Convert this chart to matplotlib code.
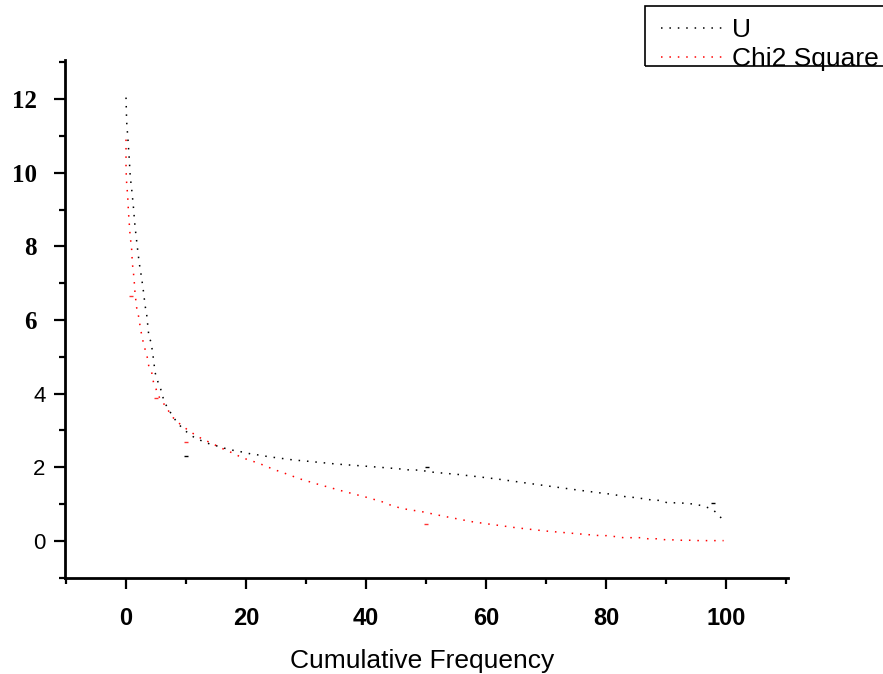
import matplotlib
matplotlib.use("Agg")
import matplotlib.pyplot as plt
from matplotlib.ticker import MultipleLocator, FixedLocator
from matplotlib.patches import Rectangle
from matplotlib.transforms import ScaledTranslation

# ---------------- data ----------------
u_x = [0, 0.1, 0.3, 0.55, 0.7, 0.95, 1.2, 1.5, 1.9, 2.2, 2.6, 2.9, 3.2, 3.45, 3.8,
       4.2, 4.55, 4.85, 5.3, 5.7, 6.05, 6.35, 7.8, 8.7, 9.8, 11.2, 12.6, 14, 15.4,
       16.8, 18.2, 19.6, 20.9, 22.3, 23.7, 25.1, 26.5, 27.9, 30, 35, 40, 43.2, 44.7,
       46.1, 47.6, 49, 50.4, 51.7, 53, 54.4, 55.8, 57.2, 58.4, 62, 66, 70, 75, 79.3,
       80.9, 82.3, 83.7, 85.1, 86.4, 87.8, 89.2, 90.3, 92, 93.4, 94.8, 96.2, 97.6,
       98.7, 99.7]
u_y = [12.04, 11.4, 10.95, 10.35, 9.9, 9.54, 9.13, 8.54, 7.96, 7.55, 7.14, 6.78, 6.37,
       6.14, 5.57, 5.38, 4.97, 4.57, 4.33, 4.17, 3.97, 3.78, 3.38, 3.18, 3.0, 2.83,
       2.72, 2.63, 2.57, 2.5, 2.45, 2.41, 2.36, 2.33, 2.29, 2.26, 2.23, 2.2, 2.17,
       2.09, 2.03, 1.99, 1.97, 1.95, 1.92, 1.93, 1.88, 1.86, 1.84, 1.82, 1.8, 1.77,
       1.75, 1.68, 1.59, 1.5, 1.39, 1.3, 1.27, 1.23, 1.19, 1.18, 1.14, 1.11, 1.1,
       1.03, 1.04, 1.02, 1.0, 0.95, 0.87, 0.73, 0.51]
u_odd_x = [10, 50.1, 97.8]
u_odd_y = [2.3, 2.02, 1.02]

chi_x = [0, 0, 0, 0.1, 0.28, 0.4, 0.67, 0.95, 1.05, 1.33, 1.5, 1.78, 2.05, 2.45, 2.9,
         3.3, 3.6, 3.8, 4.3, 4.55, 5.0, 5.4, 6.2, 7.05, 7.9, 9.3, 10.7, 12, 13.4,
         14.8, 16.2, 17.6, 19, 20.4, 21.8, 23.2, 24.5, 25.9, 27.3, 28.7, 32, 36, 40,
         42.6, 44, 45.4, 46.8, 49.5, 53, 57.8, 60, 65, 70, 75, 79, 80.1, 81.5, 82.9,
         84.3, 85.7, 87, 88.4, 90.1, 91.2, 92.6, 94, 95.5, 97.5, 99.6]
chi_y = [10.9, 10.5, 10.1, 9.73, 9.36, 8.95, 8.32, 7.9, 7.55, 7.14, 6.73, 6.33, 6.14,
         5.73, 5.37, 5.13, 4.95, 4.74, 4.56, 4.33, 4.13, 3.94, 3.75, 3.54, 3.34, 3.13,
         2.97, 2.83, 2.72, 2.61, 2.5, 2.4, 2.29, 2.2, 2.13, 2.04, 1.95, 1.87, 1.79,
         1.7, 1.54, 1.36, 1.19, 1.07, 0.98, 0.91, 0.86, 0.79, 0.67, 0.52, 0.47, 0.36,
         0.27, 0.2, 0.145, 0.145, 0.12, 0.09, 0.09, 0.09, 0.06, 0.06, 0.03, 0.03, 0.02,
         0.02, 0.01, 0.01, 0.01]
chi_odd_x = [0.78, 4.95, 10, 50]
chi_odd_y = [6.64, 3.89, 2.7, 0.46]

x_major = [0, 20, 40, 60, 80, 100]
y_major = [0, 2, 4, 6, 8, 10, 12]
y_serif = [6, 8, 10, 12]   # these labels are drawn bold serif in the original
# ------------------------------------------------------------

W, H = 883, 674
fig = plt.figure(figsize=(W / 100, H / 100), dpi=100)
ax = fig.add_axes([65 / W, 1 - 578 / H, (788 - 65) / W, (578 - 60) / H])

dots = (0, (1, 4.5))
ax.plot(u_x, u_y, color="black", lw=1.1, linestyle=dots, label="U")
ax.plot(chi_x, chi_y, color="red", lw=1.1, linestyle=dots, label="Chi2 Square")
ax.plot(u_odd_x, u_odd_y, linestyle="none", marker="_", ms=2.5, mew=1.0, color="black")
ax.plot(chi_odd_x, chi_odd_y, linestyle="none", marker="_", ms=2.5, mew=1.0,
        color="red", alpha=0.8)

ax.set_xlim(-10.17, 110.33)
ax.set_ylim(-1.005, 13.06)

for side in ("top", "right"):
    ax.spines[side].set_visible(False)
for side in ("left", "bottom"):
    ax.spines[side].set_linewidth(2)

ax.xaxis.set_major_locator(FixedLocator(x_major))
ax.xaxis.set_minor_locator(MultipleLocator(10))
ax.yaxis.set_major_locator(FixedLocator(y_major))
ax.yaxis.set_minor_locator(MultipleLocator(1))
ax.tick_params(which="major", direction="out", length=8, width=1.6)
ax.tick_params(which="minor", direction="out", length=4.5, width=1.6)
ax.tick_params(axis="x", which="major", pad=13)
ax.tick_params(axis="y", which="major", pad=6)

ax.set_xticklabels([str(v) for v in x_major], fontfamily="Liberation Sans",
                   fontweight="bold", fontsize=17)
ax.set_yticklabels([str(v) for v in y_major])
shift = ScaledTranslation(-9 / 100, 0, fig.dpi_scale_trans)
for v, lab in zip(y_major, ax.get_yticklabels()):
    if v in y_serif:
        lab.set_fontfamily("Liberation Serif")
        lab.set_fontweight("bold")
        lab.set_fontsize(18)
        lab.set_transform(lab.get_transform() + shift)
    else:
        lab.set_fontfamily("Liberation Sans")
        lab.set_fontsize(16)

ax.set_xlabel("Cumulative Frequency", fontfamily="Liberation Sans",
              fontsize=19, labelpad=10)
ax.xaxis.set_label_coords((422 - 65) / (788 - 65), -0.138)

# legend: frame drawn by hand, it runs past the right edge in the original
fig.patches.append(Rectangle((645 / W, 1 - 66 / H), 300 / W, 60 / H,
                             transform=fig.transFigure, fill=False,
                             edgecolor="black", lw=1.2))
leg = fig.legend(loc="upper left", bbox_to_anchor=(661 / W, 1 - 18 / H),
                 prop={"family": "Liberation Sans", "size": 19},
                 frameon=False, borderaxespad=0, borderpad=0, labelspacing=0.2,
                 handlelength=2.3, handletextpad=0.4)

fig.savefig("out.png", dpi=100)
